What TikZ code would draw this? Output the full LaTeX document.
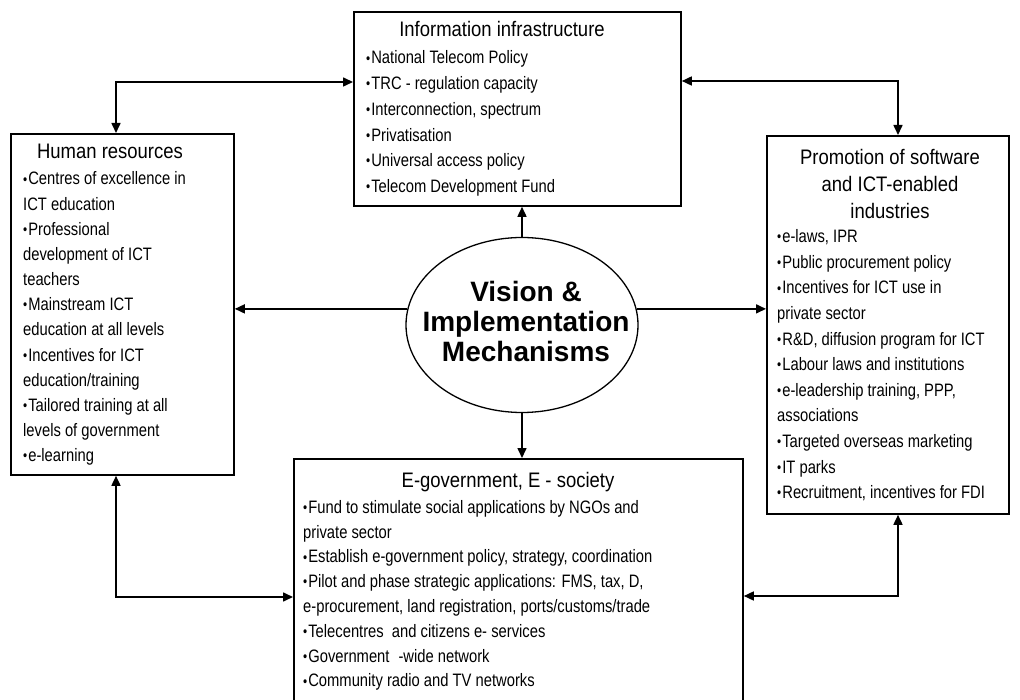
\documentclass[tikz,border=0pt]{standalone}
\usepackage{graphicx}
\usepackage{fontspec}
\setmainfont{Liberation Sans}
\newfontfamily\itemfont{Liberation Sans}[FakeStretch=0.82]
\newfontfamily\headfont{Liberation Sans}[FakeStretch=0.88]
\usetikzlibrary{arrows.meta,shapes.geometric}

% small raised bullet used in the item lists
\newcommand\bt{\raisebox{0.8pt}{\scalebox{0.8}{\textbullet}}\hspace{1pt}}

\tikzset{
  panel/.style={draw=black, line width=1.8pt, fill=white, inner sep=0pt, anchor=north west},
  hub/.style={ellipse, draw=black, line width=1.3pt, inner sep=0pt,
    minimum width=232pt, minimum height=175pt},
  hubtext/.style={inner sep=0pt, align=center,
    font=\fontsize{28}{30}\selectfont\bfseries},
  head/.style={inner sep=0pt, anchor=base, font=\headfont\fontsize{21}{27}\selectfont},
  items/.style={inner sep=0pt, anchor=base west},
  tip/.tip={Triangle[length=10pt,width=9pt]},
  oneway/.style={line width=1.6pt, -tip},
  link/.style={line width=1.6pt, tip-tip}
}

\begin{document}
\begin{tikzpicture}[x=1pt, y=-1pt]
\useasboundingbox (0,0) rectangle (1020,700);

% panels (the lower one runs past the bottom edge)
\node[panel, minimum width=327pt, minimum height=194pt] (ib) at (353,11) {};
\node[panel, minimum width=223pt, minimum height=341pt] (hr) at (10,133) {};
\node[panel, minimum width=242pt, minimum height=378pt] (pr) at (766,135) {};
\node[panel, minimum width=449pt, minimum height=260pt] (eg) at (293,458) {};

% central ellipse and its label
\node[hub] (ell) at (522,325) {};
\node[hubtext] (elltext) at (526,321) {Vision \&\\Implementation\\Mechanisms};

% headings
\node[head] (ibhead) at (502,37) {Information infrastructure};
\node[head] (hrhead) at (110,159) {Human resources};
\node[head] (prhead) at (890,165) {\parbox[t]{230pt}{\centering\headfont\fontsize{21}{27}\selectfont
  Promotion of software\\ and ICT-enabled\\ industries}};
\node[head] (eghead) at (508,487) {E-government, E - society};

% item lists
\node[items] (ibitems) at (366,64) {\parbox[t]{310pt}{\raggedright\itemfont\fontsize{18}{25.7}\selectfont
  \bt National Telecom Policy\\
  \bt TRC - regulation capacity\\
  \bt Interconnection, spectrum\\
  \bt Privatisation\\
  \bt Universal access policy\\
  \bt Telecom Development Fund}};

\node[items] (hritems) at (23,185) {\parbox[t]{205pt}{\raggedright\itemfont\fontsize{18}{25.15}\selectfont
  \bt Centres of excellence in\\
  ICT education\\
  \bt Professional\\
  development of ICT\\
  teachers\\
  \bt Mainstream ICT\\
  education at all levels\\
  \bt Incentives for ICT\\
  education/training\\
  \bt Tailored training at all\\
  levels of government\\
  \bt e-learning}};

\node[items] (pritems) at (777,242.7) {\parbox[t]{228pt}{\raggedright\itemfont\fontsize{18}{25.6}\selectfont
  \bt e-laws, IPR\\
  \bt Public procurement policy\\
  \bt Incentives for ICT use in\\
  private sector\\
  \bt R\&D, diffusion program for ICT\\
  \bt Labour laws and institutions\\
  \bt e-leadership training, PPP,\\
  associations\\
  \bt Targeted overseas marketing\\
  \bt IT parks\\
  \bt Recruitment, incentives for FDI}};

\node[items] (egitems) at (303,513.3) {\parbox[t]{430pt}{\raggedright\itemfont\fontsize{18}{24.8}\selectfont
  \bt Fund to stimulate social applications by NGOs and\\
  private sector\\
  \bt Establish e-government policy, strategy, coordination\\
  \bt Pilot and phase strategic applications: FMS, tax, D,\\
  e-procurement, land registration, ports/customs/trade\\
  \bt Telecentres\ \ and citizens e- services\\
  \bt Government\hspace{9pt}-wide network\\
  \bt Community radio and TV networks}};

% connectors from the hub
\draw[oneway] (ell.north) -- (ell.north |- ib.south);
\draw[oneway] (ell.south) -- (ell.south |- eg.north);
\draw[oneway] (ell.172) -- (ell.172 -| hr.east);
\draw[oneway] (ell.8) -- (ell.8 -| pr.west);

% corner links between the panels
\coordinate (tl) at (116,82);
\coordinate (tr) at (898,81);
\coordinate (bl) at (116,597);
\coordinate (br) at (898,596);
\draw[link] (tl -| ib.west) -- (tl) -- (tl |- hr.north);
\draw[link] (tr -| ib.east) -- (tr) -- (tr |- pr.north);
\draw[link] (bl |- hr.south) -- (bl) -- (bl -| eg.west);
\draw[link] (br |- pr.south) -- (br) -- (br -| eg.east);
\end{tikzpicture}
\end{document}
